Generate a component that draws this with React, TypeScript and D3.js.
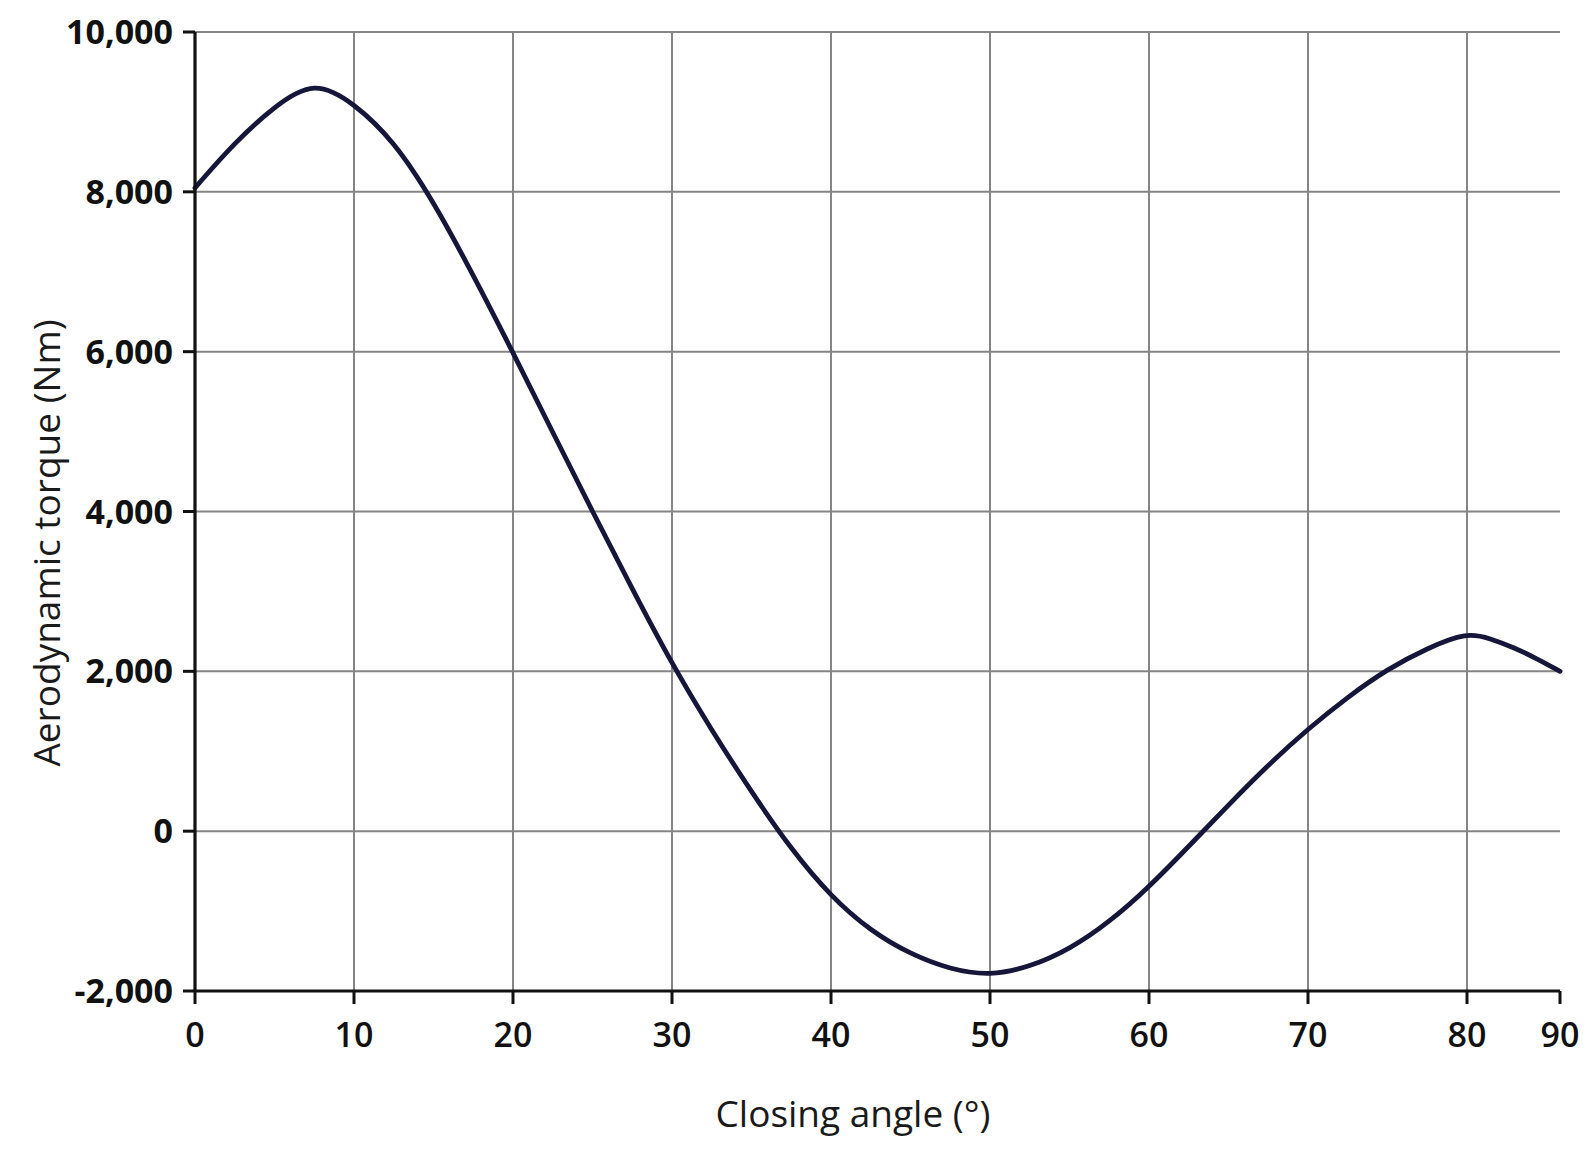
import React from "react";
import * as d3 from "d3";

const angles = [0, 2.5, 5, 7.5, 10, 12.5, 15, 17.5, 20, 22.5, 25, 27.5, 30, 32.5, 35, 37.5, 40, 42.5, 45, 47.5, 50, 52.5, 55, 57.5, 60, 62.5, 65, 67.5, 70, 72.5, 75, 77.5, 80, 82.5, 85, 87.5, 90];
const torque = [8050, 8620, 9070, 9400, 9110, 8640, 7880, 6960, 5990, 4990, 4000, 3030, 2090, 1260, 490, -230, -820, -1250, -1540, -1730, -1810, -1700, -1480, -1140, -700, -190, 330, 830, 1280, 1680, 2030, 2290, 2490, 2410, 2300, 2160, 2000];

const xTicks = [0, 10, 20, 30, 40, 50, 60, 70, 80, 90];
const yTicks = [-2000, 0, 2000, 4000, 6000, 8000, 10000];

const xTitle = "Closing angle (°)";
const yTitle = "Aerodynamic torque (Nm)";

const W = 1595;
const H = 1159;

export default function App() {
  const x = d3.scaleLinear().domain([0, 80, 90]).range([195, 1467, 1560]);
  const y = d3.scaleLinear().domain([-2000, 10000]).range([991, 32]);
  const fmt = (v: number) => d3.format(",")(v).replace("\u2212", "-");
  const line = d3
    .line<number>()
    .x((_, i) => x(angles[i]))
    .y((d) => y(d))
    .curve(d3.curveBasis);

  const x0 = x(0);
  const x1 = x(90);
  const yb = y(-2000);
  const yt = y(10000);
  const tickFont = "'Open Sans', sans-serif";

  return (
    <svg
      width={W}
      height={H}
      viewBox={`0 0 ${W} ${H}`}
      style={{ position: "absolute", left: 0, top: 0, background: "#ffffff" }}
    >
      <rect x={0} y={0} width={W} height={H} fill="#ffffff" />
      {yTicks
        .filter((t) => t > -2000)
        .map((t) => (
          <line key={"hg" + t} x1={x0} x2={x1} y1={y(t)} y2={y(t)} stroke="#858585" strokeWidth={2} />
        ))}
      {xTicks
        .filter((t) => t > 0 && t < 90)
        .map((t) => (
          <line key={"vg" + t} x1={x(t)} x2={x(t)} y1={yt} y2={yb} stroke="#858585" strokeWidth={2} />
        ))}
      <path d={line(torque) || ""} fill="none" stroke="#16163a" strokeWidth={4.8} strokeLinejoin="round" strokeLinecap="round" />
      <line x1={x0} x2={x0} y1={yt} y2={yb} stroke="#111" strokeWidth={3.2} />
      <line x1={x0} x2={x1} y1={yb} y2={yb} stroke="#111" strokeWidth={3.2} />
      {yTicks.map((t) => (
        <line key={"yt" + t} x1={x0 - 12} x2={x0} y1={y(t)} y2={y(t)} stroke="#111" strokeWidth={3} />
      ))}
      {xTicks.map((t) => (
        <line key={"xt" + t} x1={x(t)} x2={x(t)} y1={yb} y2={yb + 13} stroke="#111" strokeWidth={3} />
      ))}
      {yTicks.map((t) => (
        <text
          key={"yl" + t}
          x={173}
          y={y(t) + 12}
          textAnchor="end"
          fontFamily={tickFont}
          fontWeight={700}
          fontSize={34}
          fill="#111"
        >
          {fmt(t)}
        </text>
      ))}
      {xTicks.map((t) => (
        <text
          key={"xl" + t}
          x={x(t)}
          y={1047}
          textAnchor="middle"
          fontFamily={tickFont}
          fontWeight={600}
          fontSize={34}
          fill="#111"
        >
          {t}
        </text>
      ))}
      <text x={853} y={1127} textAnchor="middle" fontFamily={tickFont} fontWeight={500} fontSize={37} fill="#1a1a1a">
        {xTitle}
      </text>
      <text
        transform={`translate(60, 543) rotate(-90)`}
        textAnchor="middle"
        fontFamily={tickFont}
        fontWeight={500}
        fontSize={37}
        fill="#1a1a1a"
      >
        {yTitle}
      </text>
    </svg>
  );
}
